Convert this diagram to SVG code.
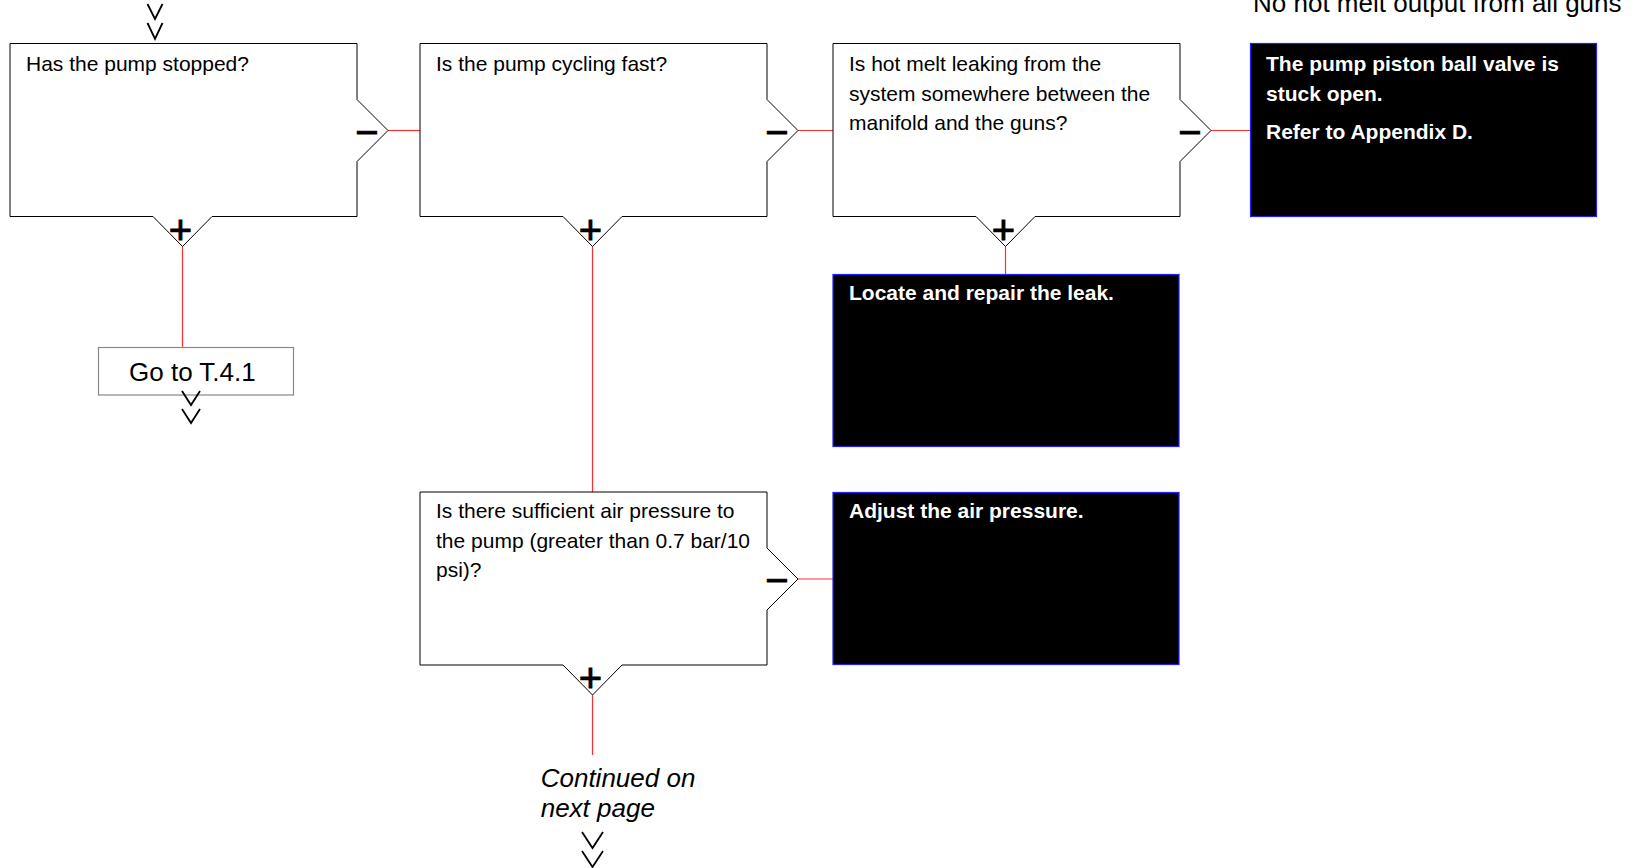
<svg xmlns="http://www.w3.org/2000/svg" width="1634" height="868" viewBox="0 0 1634 868">
<style>
.q{fill:#fff;stroke:#000;stroke-width:1}
.a{fill:#000;stroke:#2020ff;stroke-width:1.2}
.g{fill:#fff;stroke:#888;stroke-width:1.2}
.t{font-family:"Liberation Sans",Arial,sans-serif;font-size:21px;fill:#000}
.w{font-family:"Liberation Sans",Arial,sans-serif;font-size:21px;font-weight:bold;fill:#fff}
.s{font-family:"Liberation Sans",Arial,sans-serif;font-size:40px;fill:#000;stroke:#000;stroke-width:0.9;text-anchor:middle}
.c{fill:none;stroke:#ff3030;stroke-width:1.2}
.v{fill:none;stroke:#000;stroke-width:1.8}
</style>
<defs>
<path id="qbox" d="M0,0 H347 V56 L378,87 L347,118 V173 H202 L172.5,203 L143,173 H0 Z"/>
</defs>
<text x="1253" y="12" style="font-family:'Liberation Sans',Arial,sans-serif;font-size:26px;fill:#000">No hot melt output from all guns</text>
<g id="connectors">
<line class="c" x1="388" y1="130.5" x2="420" y2="130.5"/>
<line class="c" x1="798" y1="130.5" x2="833" y2="130.5"/>
<line class="c" x1="1211" y1="130.5" x2="1250" y2="130.5"/>
<line class="c" x1="182.5" y1="246.5" x2="182.5" y2="347.5"/>
<line class="c" x1="592.5" y1="246.5" x2="592.5" y2="492"/>
<line class="c" x1="1005.5" y1="246.5" x2="1005.5" y2="274.5"/>
<line class="c" x1="798" y1="579" x2="833" y2="579"/>
<line class="c" x1="592.5" y1="695" x2="592.5" y2="755"/>
</g>
<g id="entry-arrows">
<polyline class="v" points="147.5,4 155,19 162.5,4"/>
<polyline class="v" points="147.5,23 155,39 162.5,23"/>
</g>
<g id="n1">
<use href="#qbox" class="q" x="10" y="43.5"/>
<text class="t" x="26" y="70.7">Has the pump stopped?</text>
<text class="s" x="367" y="145.5">−</text>
<text class="s" x="180.5" y="244">+</text>
</g>
<g id="n2">
<use href="#qbox" class="q" x="420" y="43.5"/>
<text class="t" x="436" y="70.7">Is the pump cycling fast?</text>
<text class="s" x="777" y="145.5">−</text>
<text class="s" x="590.5" y="244">+</text>
</g>
<g id="n3">
<use href="#qbox" class="q" x="833" y="43.5"/>
<text class="t" x="849" y="70.7">Is hot melt leaking from the</text>
<text class="t" x="849" y="100.7">system somewhere between the</text>
<text class="t" x="849" y="130.2">manifold and the guns?</text>
<text class="s" x="1190" y="145.5">−</text>
<text class="s" x="1003.5" y="244">+</text>
</g>
<g id="n4">
<rect class="a" x="1250.5" y="43.5" width="346" height="173"/>
<text class="w" x="1266" y="71">The pump piston ball valve is</text>
<text class="w" x="1266" y="100.7">stuck open.</text>
<text class="w" x="1266" y="139.3">Refer to Appendix D.</text>
</g>
<g id="n5">
<rect class="a" x="833" y="274.5" width="346" height="172"/>
<text class="w" x="849" y="300">Locate and repair the leak.</text>
</g>
<g id="n6">
<use href="#qbox" class="q" x="420" y="492"/>
<text class="t" x="436" y="518.3">Is there sufficient air pressure to</text>
<text class="t" x="436" y="548.3">the pump (greater than 0.7 bar/10</text>
<text class="t" x="436" y="577">psi)?</text>
<text class="s" x="777" y="594">−</text>
<text class="s" x="590.5" y="692">+</text>
</g>
<g id="n7">
<rect class="a" x="833" y="492.5" width="346" height="172"/>
<text class="w" x="849" y="518.3">Adjust the air pressure.</text>
</g>
<g id="n8">
<rect class="g" x="98.5" y="347.5" width="195" height="47.5"/>
<text x="129" y="381" style="font-family:'Liberation Sans',Arial,sans-serif;font-size:26px;fill:#000">Go to T.4.1</text>
<polyline class="v" points="182,391 191,405 200,391"/>
<polyline class="v" points="182,409 191,423 200,409"/>
</g>
<g id="n9">
<text x="540.7" y="786.7" style="font-family:'Liberation Sans',Arial,sans-serif;font-size:26px;font-style:italic;fill:#000">Continued on</text>
<text x="540.7" y="816.7" style="font-family:'Liberation Sans',Arial,sans-serif;font-size:26px;font-style:italic;fill:#000">next page</text>
<polyline class="v" points="582,832 592.5,848 603,832"/>
<polyline class="v" points="582,851 592.5,867 603,851"/>
</g>
</svg>
